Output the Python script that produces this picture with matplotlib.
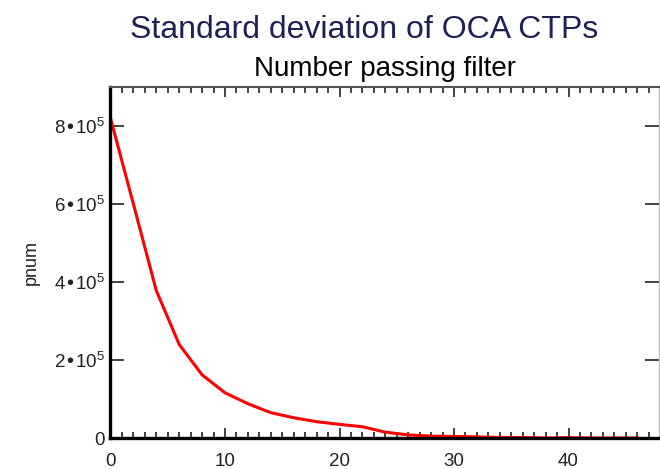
import matplotlib
matplotlib.use("Agg")
import matplotlib.pyplot as plt
from matplotlib.ticker import MultipleLocator, FuncFormatter

plt.rcParams['font.family'] = ['Liberation Sans', 'DejaVu Sans']
plt.rcParams['mathtext.default'] = 'regular'

# standard deviation threshold vs. number of pixels passing the filter
threshold = list(range(0, 48, 2))
pnum = [8.20, 6.00, 3.78, 2.40, 1.62, 1.16, 0.88, 0.65, 0.52, 0.42,
        0.35, 0.29, 0.15, 0.08, 0.05, 0.04, 0.03, 0.015, 0.015, 0.00,
        0.01, 0.00, 0.00, 0.00]
pnum = [v * 1e5 for v in pnum]

fig = plt.figure(figsize=(6.6, 4.69), dpi=100)
ax = fig.add_axes([0.1674, 0.066, 0.8311, 0.7485])

ax.plot(threshold, pnum, color='red', linewidth=2.2)

ax.set_xlim(0, 47.9)
ax.set_ylim(0, 9e5)
ax.xaxis.set_major_locator(MultipleLocator(10))
ax.xaxis.set_minor_locator(MultipleLocator(1))
ax.yaxis.set_major_locator(MultipleLocator(2e5))


def sci_fmt(v, pos):
    if v == 0:
        return '0'
    return '%d\u2022$10^5$' % round(v / 1e5)


ax.yaxis.set_major_formatter(FuncFormatter(sci_fmt))
ax.tick_params(axis='both', which='both', direction='in', top=True, right=True,
               labelsize=13.5, colors='#222222')
ax.tick_params(axis='x', which='major', length=7, width=1.2, pad=11)
ax.tick_params(axis='x', which='minor', length=4, width=1.2)
ax.tick_params(axis='y', which='major', length=10, width=1.2, pad=4)

for side in ['left', 'bottom']:
    ax.spines[side].set_linewidth(2.4)
    ax.spines[side].set_color('black')
ax.spines['top'].set_linewidth(1.5)
ax.spines['top'].set_color('#555555')
ax.spines['right'].set_linewidth(1.0)
ax.spines['right'].set_color('#bbbbbb')

ax.set_ylabel('pnum', fontsize=13, color='#222222', labelpad=10)
ax.set_title('Number passing filter', fontsize=20, color='black', pad=8)

fig.text(0.551, 0.919, 'Standard deviation of OCA CTPs', fontsize=23,
         color='#1f2153', ha='center', va='baseline')

fig.savefig('out.png', dpi=100)
